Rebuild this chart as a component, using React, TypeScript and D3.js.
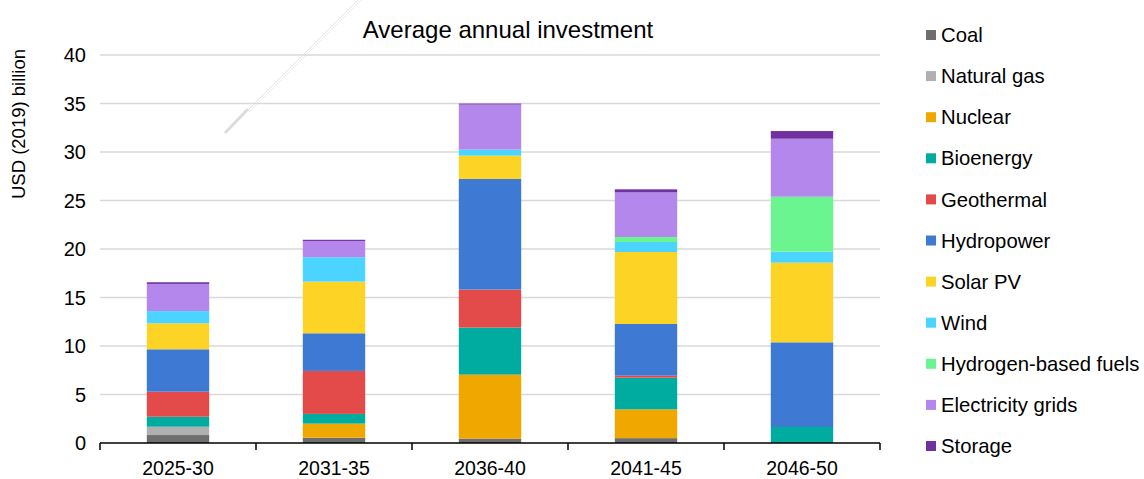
import React from "react";
import * as d3 from "d3";

const categories = ["2025-30", "2031-35", "2036-40", "2041-45", "2046-50"];
const seriesNames = [
  "Coal",
  "Natural gas",
  "Nuclear",
  "Bioenergy",
  "Geothermal",
  "Hydropower",
  "Solar PV",
  "Wind",
  "Hydrogen-based fuels",
  "Electricity grids",
  "Storage",
];
const coal = [0.82, 0.55, 0.45, 0.5, 0];
const naturalGas = [0.86, 0, 0, 0, 0];
const nuclear = [0, 1.45, 6.6, 2.97, 0];
const bioenergy = [1.03, 1.0, 4.85, 3.26, 1.65];
const geothermal = [2.58, 4.43, 3.92, 0.21, 0];
const hydropower = [4.37, 3.88, 11.4, 5.33, 8.73];
const solarPV = [2.68, 5.33, 2.41, 7.42, 8.21];
const wind = [1.26, 2.51, 0.62, 1.03, 1.13];
const hydrogen = [0, 0, 0, 0.52, 5.67];
const grids = [2.8, 1.68, 4.64, 4.6, 5.98];
const storage = [0.17, 0.12, 0.1, 0.31, 0.79];
const yTicks = [0, 5, 10, 15, 20, 25, 30, 35, 40];

const colors = [
  "#6d6e6d",
  "#b0b0b0",
  "#f0a800",
  "#00ab9f",
  "#e34b4a",
  "#3e7ad3",
  "#fdd325",
  "#4ad4ff",
  "#6bf591",
  "#b387ec",
  "#7030a0",
];

const seriesValues = [
  coal,
  naturalGas,
  nuclear,
  bioenergy,
  geothermal,
  hydropower,
  solarPV,
  wind,
  hydrogen,
  grids,
  storage,
];

export default function App() {
  const W = 1144;
  const H = 479;
  const left = 100;
  const right = 880;
  const top = 55;
  const bottom = 443;
  const font = "Liberation Sans, Arial, sans-serif";

  const x = d3.scaleBand<string>().domain(categories).range([left, right]).paddingInner(0.6).paddingOuter(0.3);
  const xTickScale = d3.scaleLinear().domain([0, categories.length]).range([left, right]);
  const y = d3.scaleLinear().domain([0, 40]).range([bottom, top]);

  const rows = categories.map((c, i) => {
    const r: any = { cat: c };
    seriesNames.forEach((s, j) => (r[s] = seriesValues[j][i]));
    return r;
  });
  const stacked = d3.stack<any>().keys(seriesNames)(rows);

  return (
    <svg width={W} height={H} style={{ display: "block", position: "absolute", left: 0, top: 0 }} fontFamily={font}>
      <rect width={W} height={H} fill="#fff" />
      {/* artifact line */}
      <line x1={225} y1={133} x2={248} y2={109} stroke="#dcdcdc" strokeWidth={3} />
      <line x1={246} y1={112} x2={358} y2={0} stroke="#e4e4e4" strokeWidth={1} />
      <line x1={249} y1={112} x2={361} y2={0} stroke="#ececec" strokeWidth={1} />
      {yTicks.map((t) => (
        <g key={t}>
          {t > 0 && <line x1={left} x2={right} y1={y(t)} y2={y(t)} stroke="#d9d9d9" strokeWidth={1.5} />}
          <text x={86} y={y(t)} dy="0.35em" textAnchor="end" fontSize={20} fill="#000">
            {t}
          </text>
        </g>
      ))}
      {stacked.map((layer, j) => (
        <g key={layer.key} fill={colors[j]}>
          {layer.map((d, i) =>
            d[1] - d[0] > 0 ? (
              <rect
                key={i}
                x={x(categories[i])}
                width={x.bandwidth()}
                y={y(d[1])}
                height={y(d[0]) - y(d[1])}
              />
            ) : null
          )}
        </g>
      ))}
      <line x1={left} x2={right} y1={bottom} y2={bottom} stroke="#000" strokeWidth={1.5} />
      {d3.range(categories.length + 1).map((k) => (
        <line key={k} x1={xTickScale(k)} x2={xTickScale(k)} y1={bottom} y2={bottom + 7} stroke="#000" strokeWidth={1.5} />
      ))}
      {categories.map((c) => (
        <text key={c} x={(x(c) as number) + x.bandwidth() / 2} y={475} textAnchor="middle" fontSize={19.5} fill="#000">
          {c}
        </text>
      ))}
      <text x={508} y={38} textAnchor="middle" fontSize={24} fill="#000">
        Average annual investment
      </text>
      <text transform="translate(25,124) rotate(-90)" textAnchor="middle" fontSize={18.5} fill="#000">
        USD (2019) billion
      </text>
      {seriesNames.map((s, j) => {
        const cy = 35 + j * 41.1;
        return (
          <g key={s}>
            <rect x={926} y={cy - 5} width={10} height={10} fill={colors[j]} />
            <text x={941} y={cy} dy="0.35em" fontSize={20.3} fill="#000">
              {s}
            </text>
          </g>
        );
      })}
    </svg>
  );
}
